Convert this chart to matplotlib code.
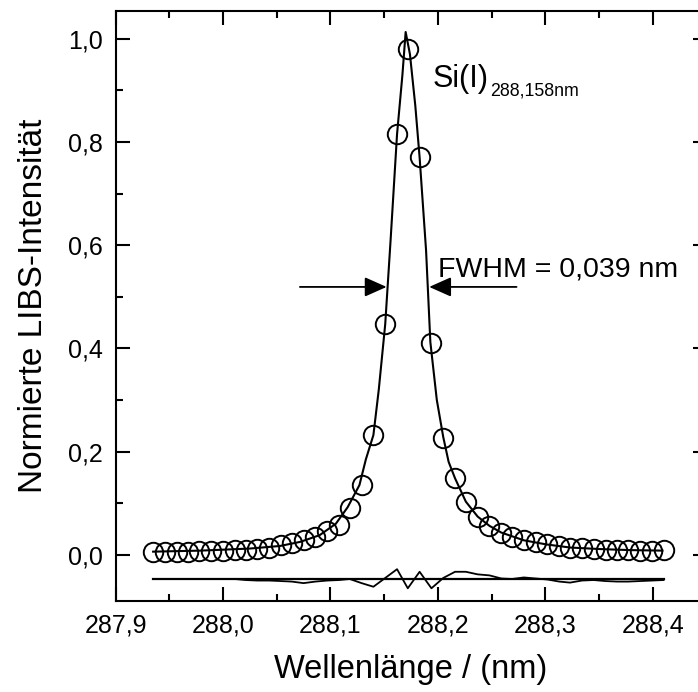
import matplotlib
matplotlib.use('Agg')
import matplotlib.pyplot as plt
from matplotlib.ticker import MultipleLocator, FuncFormatter

plt.rcParams['font.family'] = ['Liberation Sans', 'DejaVu Sans']

# measured data points (wavelength in nm, normalised intensity)
wl = [287.935, 287.946, 287.957, 287.967, 287.978, 287.989, 288.000, 288.011,
      288.021, 288.032, 288.043, 288.054, 288.064, 288.075, 288.086, 288.097,
      288.108, 288.118, 288.129, 288.140, 288.151, 288.162, 288.172, 288.183,
      288.194, 288.205, 288.216, 288.226, 288.237, 288.248, 288.259, 288.269,
      288.280, 288.291, 288.302, 288.313, 288.323, 288.334, 288.345, 288.356,
      288.367, 288.377, 288.388, 288.399, 288.410]
intensity = [0.005, 0.005, 0.006, 0.006, 0.007, 0.007, 0.008, 0.009,
             0.010, 0.011, 0.014, 0.018, 0.022, 0.028, 0.035, 0.046,
             0.058, 0.090, 0.135, 0.232, 0.447, 0.815, 0.980, 0.770,
             0.410, 0.227, 0.148, 0.103, 0.073, 0.056, 0.043, 0.034,
             0.028, 0.024, 0.020, 0.016, 0.013, 0.013, 0.011, 0.010,
             0.009, 0.009, 0.008, 0.008, 0.009]

# fitted profile
fit_wl = [287.935, 287.979, 288.025, 288.053, 288.072, 288.090, 288.105, 288.116,
          288.127, 288.133, 288.140, 288.145, 288.151, 288.156, 288.162, 288.167,
          288.170, 288.174, 288.179, 288.183, 288.189, 288.193, 288.199, 288.205,
          288.210, 288.216, 288.226, 288.237, 288.248, 288.259, 288.280, 288.301,
          288.323, 288.351, 288.379, 288.409]
fit_val = [0.006, 0.008, 0.012, 0.017, 0.025, 0.038, 0.060, 0.092,
           0.135, 0.185, 0.232, 0.320, 0.447, 0.610, 0.815, 0.930,
           1.013, 0.970, 0.870, 0.770, 0.590, 0.412, 0.300, 0.228,
           0.180, 0.148, 0.103, 0.074, 0.056, 0.043, 0.028, 0.020,
           0.014, 0.011, 0.009, 0.008]

# residuals (drawn shifted below the zero line)
resid_offset = -0.047
resid = [-0.047, -0.047, -0.047, -0.047, -0.047, -0.047, -0.047, -0.047,
         -0.049, -0.050, -0.050, -0.051, -0.052, -0.055, -0.052, -0.050,
         -0.049, -0.047, -0.055, -0.062, -0.045, -0.028, -0.065, -0.033,
         -0.065, -0.045, -0.033, -0.033, -0.038, -0.040, -0.046, -0.047,
         -0.044, -0.046, -0.048, -0.052, -0.054, -0.050, -0.049, -0.051,
         -0.052, -0.052, -0.051, -0.050, -0.049]

fwhm_y = 0.519
fwhm_left = (288.0716, 288.1523)
fwhm_right = (288.2732, 288.1919)

fig = plt.figure(figsize=(6.98, 6.92), dpi=100)
ax = fig.add_axes([0.1655, 0.1319, 0.8467, 0.8522])

ax.plot(fit_wl, fit_val, color='black', lw=1.5, zorder=3)
ax.plot(wl, intensity, linestyle='none', marker='o', ms=14, mfc='none',
        mec='black', mew=1.4, zorder=4)
ax.plot([wl[0], wl[-1]], [resid_offset, resid_offset], color='black', lw=1.6)
ax.plot(wl, resid, color='black', lw=1.3)

arrow_style = dict(arrowstyle='-|>,head_length=1.35,head_width=0.6',
                   color='black', lw=1.3, shrinkA=0, shrinkB=0)
ax.annotate('', xy=(fwhm_left[1], fwhm_y), xytext=(fwhm_left[0], fwhm_y),
            arrowprops=arrow_style)
ax.annotate('', xy=(fwhm_right[1], fwhm_y), xytext=(fwhm_right[0], fwhm_y),
            arrowprops=arrow_style)

ax.text(288.2000, 0.540, 'FWHM = 0,039 nm', fontsize=20.5, va='baseline', ha='left')
ax.text(288.1954, 0.907, 'Si(I)', fontsize=22, va='baseline', ha='left')
ax.text(288.2484, 0.8895, '288,158nm', fontsize=12.8, va='baseline', ha='left')

ax.set_xlim(287.9, 288.45)
ax.set_ylim(-0.0891, 1.0537)

ax.xaxis.set_major_locator(MultipleLocator(0.1))
ax.xaxis.set_minor_locator(MultipleLocator(0.05))
ax.yaxis.set_major_locator(MultipleLocator(0.2))
ax.yaxis.set_minor_locator(MultipleLocator(0.1))
fmt = FuncFormatter(lambda v, p: f"{v:.1f}".replace('.', ','))
ax.xaxis.set_major_formatter(fmt)
ax.yaxis.set_major_formatter(fmt)

ax.tick_params(which='both', direction='in', top=True, right=True, width=1.5,
               labelsize=18)
ax.tick_params(which='major', length=10, pad=9)
ax.tick_params(which='minor', length=5)
for s in ax.spines.values():
    s.set_linewidth(1.5)

ax.set_xlabel('Wellenlänge / (nm)', fontsize=23.5, labelpad=12)
ax.set_ylabel('Normierte LIBS-Intensität', fontsize=24, labelpad=14)

fig.savefig('out.png', dpi=100)
